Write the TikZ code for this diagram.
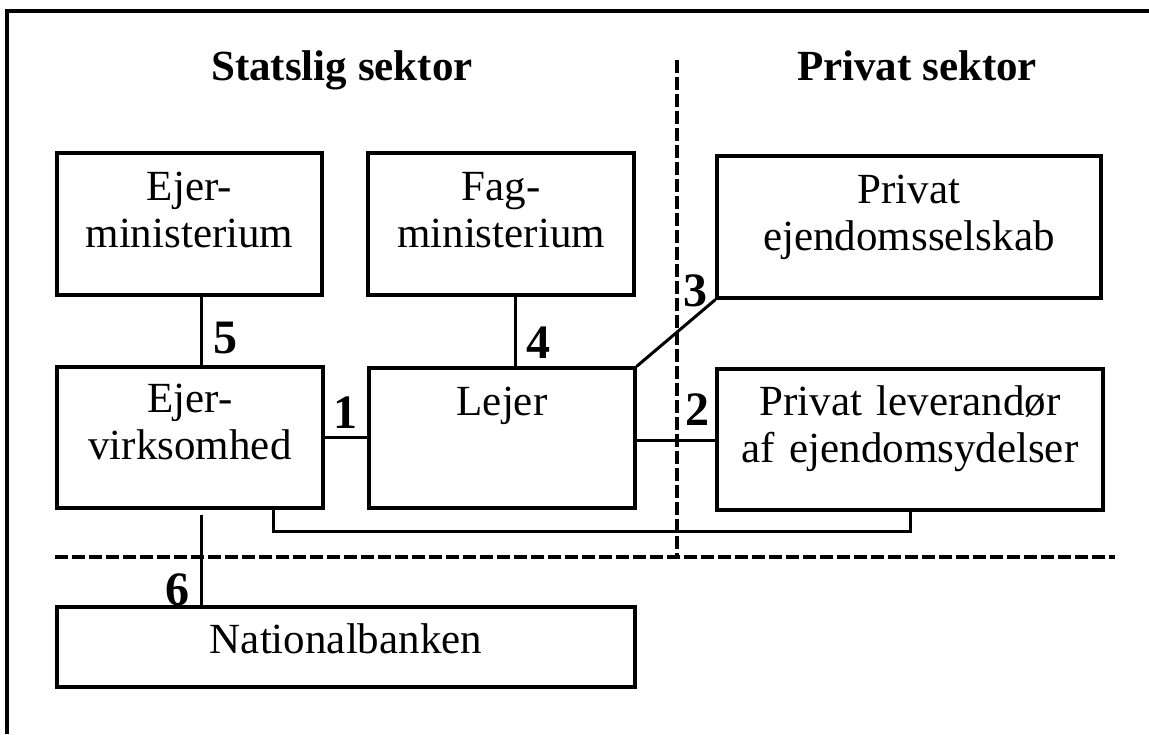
\documentclass[tikz,border=0pt]{standalone}
\usepackage{fontspec}
\setmainfont{Liberation Serif}
\usetikzlibrary{fit}
\begin{document}
\begin{tikzpicture}[x=0.5pt,y=-0.5pt,
  box/.style={draw, line width=1.6pt, inner sep=0pt},
  txt/.style={font=\fontsize{21.5}{23.5}\selectfont, align=center, anchor=base, inner sep=0pt, text width=190pt},
  title/.style={font=\fontsize{21.5}{24}\selectfont\bfseries, anchor=base, inner sep=0pt},
  num/.style={font=\fontsize{24}{26}\selectfont\bfseries, anchor=base, inner sep=0pt},
  conn/.style={line width=1.5pt},
  sector/.style={line width=2pt, dash pattern=on 6.5pt off 2pt},
  frame/.style={line width=1.6pt}]
\useasboundingbox (0,0) rectangle (1149,734);
\fill[white] (0,0) rectangle (1149,734);
% frame
\draw[frame] (7,734) -- (7,11) -- (1149,11);
% titles
\node[title] (ts) at (342,80) {Statslig sektor};
\node[title] (tp) at (917,80) {Privat sektor};
% boxes
\node[box, fit={(57,153) (322,295)}] (EM) {};
\node[box, fit={(368,153) (634,295)}] (FM) {};
\node[box, fit={(717,156) (1101,298)}] (PE) {};
\node[box, fit={(57,367) (323,508)}] (EV) {};
\node[box, fit={(369,368) (635,508)}] (LE) {};
\node[box, fit={(717,369) (1103,510)}] (PL) {};
\node[box, fit={(57,607) (635,687)}] (NB) {};
% texts
\node[txt] (tEM) at ([yshift=-24.5pt]EM.north) {Ejer-\\ministerium};
\node[txt] (tFM) at ([yshift=-24.5pt]FM.north) {Fag-\\ministerium};
\node[txt] (tPE) at ([yshift=-24.5pt]PE.north) {Privat\\ejendomsselskab};
\node[txt] (tEV) at ([yshift=-23.5pt]EV.north) {Ejer-\\virksomhed};
\node[txt] (tLE) at ([yshift=-24.5pt]LE.north) {Lejer};
\node[txt] (tPL) at ([yshift=-24pt]PL.north) {Privat leverandør\\af ejendomsydelser};
\node[txt] (tNB) at ([yshift=-24pt]NB.north) {Nationalbanken};
% sector separators
\draw[sector] (55,557) -- (1115,557);
\draw[sector] (677,60) -- (677,557);
% connectors
\draw[conn] ([xshift=5.75pt]EM.south) -- ([xshift=5.75pt]EM.south |- EV.north);
\draw[conn] ([xshift=7pt]FM.south) -- ([xshift=7pt]FM.south |- LE.north);
\draw[conn] (EV.east) -- (EV.east -| LE.west);
\draw[conn] ([yshift=-1pt]LE.east) -- ([yshift=-1pt]LE.east -| PL.west);
\draw[conn] (LE.north east) -- (PE.south west);
\draw[conn] ([xshift=41.5pt]EV.south) -- ++(0,22) -| (PL.south);
\draw[conn] ([xshift=5.5pt,yshift=-2.5pt]EV.south) -- ([xshift=5.5pt]EV.south |- NB.north);
% numbers
\node[num] (n5) at (225,353) {5};
\node[num] (n4) at (538,358) {4};
\node[num] (n1) at (345,428) {1};
\node[num] (n2) at (697,425) {2};
\node[num] (n3) at (695,306) {3};
\node[num] (n6) at (177,605) {6};
\end{tikzpicture}
\end{document}
